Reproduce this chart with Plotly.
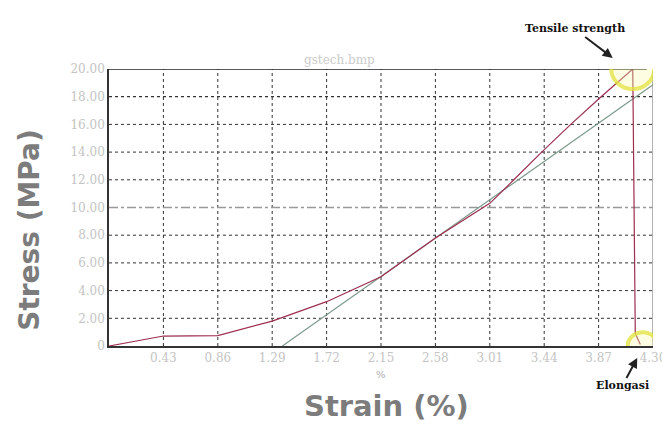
import plotly.graph_objects as go

# Data
strain = [0.0, 0.43, 0.86, 1.29, 1.72, 2.15, 2.58, 3.01, 3.20, 3.42, 3.65, 3.89, 4.14, 4.15, 4.16, 4.20]
stress = [0.0, 0.72, 0.75, 1.8, 3.2, 5.0, 7.8, 10.3, 12.0, 14.0, 16.0, 18.0, 20.0, 10.0, 0.9, 0.1]

fit_strain = [1.37, 4.43]
fit_stress = [0.0, 19.7]

x_ticks = [0.43, 0.86, 1.29, 1.72, 2.15, 2.58, 3.01, 3.44, 3.87, 4.30]
x_tick_text = ["0.43", "0.86", "1.29", "1.72", "2.15", "2.58", "3.01", "3.44", "3.87", "4.30"]
y_ticks = [0, 2, 4, 6, 8, 10, 12, 14, 16, 18, 20]
y_tick_text = ["0", "2.00", "4.00", "6.00", "8.00", "10.00", "12.00", "14.00", "16.00", "18.00", "20.00"]

peak = (4.14, 20.0)
break_pt = (4.22, 0.0)

fig = go.Figure()

fig.add_trace(go.Scatter(x=fit_strain, y=fit_stress, mode="lines",
                         line=dict(color="#7e9a8c", width=1.2), cliponaxis=False,
                         hoverinfo="skip"))
fig.add_trace(go.Scatter(x=strain, y=stress, mode="lines",
                         line=dict(color="#9c2f4f", width=1.2), hoverinfo="skip"))

# dotted grid via shapes
shapes = []
for xv in x_ticks[:-1]:
    shapes.append(dict(type="line", xref="x", yref="y", x0=xv, x1=xv, y0=0, y1=20,
                       line=dict(color="#333333", width=1, dash="dot"), layer="below"))
for yv in y_ticks[1:-1]:
    if yv == 10:
        shapes.append(dict(type="line", xref="x", yref="y", x0=0, x1=4.30, y0=yv, y1=yv,
                           line=dict(color="#999999", width=1.3, dash="dashdot"), layer="below"))
    else:
        shapes.append(dict(type="line", xref="x", yref="y", x0=0, x1=4.30, y0=yv, y1=yv,
                           line=dict(color="#333333", width=1.2 if yv == 18 else 1, dash="dot"),
                           layer="below"))
# frame
shapes.append(dict(type="line", xref="x", yref="y", x0=0, x1=4.25, y0=20, y1=20,
                   line=dict(color="#222222", width=1.3)))
shapes.append(dict(type="line", xref="x", yref="y", x0=4.30, x1=4.30, y0=0, y1=19.8,
                   line=dict(color="#999999", width=1.5)))
# yellow highlight circles
shapes.append(dict(type="circle", xref="x", yref="y", x0=peak[0] - 0.17, x1=peak[0] + 0.17,
                   y0=peak[1] - 1.45, y1=peak[1] + 1.45,
                   line=dict(color="rgba(225,225,60,0.75)", width=4),
                   fillcolor="rgba(250,250,170,0.35)"))
shapes.append(dict(type="circle", xref="x", yref="y", x0=break_pt[0] - 0.12, x1=break_pt[0] + 0.12,
                   y0=break_pt[1] - 1.0, y1=break_pt[1] + 1.0,
                   line=dict(color="rgba(225,225,60,0.75)", width=4),
                   fillcolor="rgba(250,250,170,0.35)"))

annotations = [
    dict(text="gstech.bmp", xref="paper", yref="paper", x=0.424, y=1.0, yanchor="bottom",
         showarrow=False, font=dict(family="DejaVu Serif", size=12, color="#cccccc")),
    dict(text="%", xref="paper", yref="paper", x=0.50, y=-0.103, yanchor="middle",
         showarrow=False, font=dict(family="DejaVu Serif", size=10, color="#aaaaaa")),
    dict(text="Strain (%)", xref="paper", yref="paper", x=0.511, y=-0.215, yanchor="middle",
         showarrow=False, font=dict(family="DejaVu Sans", size=29, color="#7c7c7c", weight="bold")),
    dict(text="Stress (MPa)", xref="paper", yref="paper", x=-0.145, y=0.42, textangle=-90,
         xanchor="center", yanchor="middle", showarrow=False,
         font=dict(family="DejaVu Sans", size=28, color="#7c7c7c", weight="bold")),
    dict(text="<b>Tensile strength</b>", xref="paper", yref="paper", x=0.926, y=1.04,
         ax=-38, ay=-29, arrowhead=2, arrowsize=1, arrowwidth=2, arrowcolor="#222222",
         standoff=0, font=dict(family="DejaVu Serif", size=11, color="#111111")),
    dict(text="<b>Elongasi</b>", xref="paper", yref="paper", x=0.971, y=-0.043,
         ax=-15, ay=28, arrowhead=2, arrowsize=1, arrowwidth=2, arrowcolor="#222222",
         standoff=0, font=dict(family="DejaVu Serif", size=11, color="#111111")),
]

fig.update_layout(
    width=670, height=425,
    margin=dict(l=101, r=17, t=61, b=87),
    paper_bgcolor="white", plot_bgcolor="white",
    showlegend=False,
    shapes=shapes,
    annotations=annotations,
    xaxis=dict(range=[0, 4.30], tickvals=x_ticks, ticktext=x_tick_text, showgrid=False,
               zeroline=False, showline=True, linecolor="#333333", linewidth=1.5,
               ticks="", tickfont=dict(family="DejaVu Serif", size=12, color="#c4c4c4")),
    yaxis=dict(range=[0, 20], tickvals=y_ticks, ticktext=y_tick_text, showgrid=False,
               zeroline=False, showline=True, linecolor="#333333", linewidth=1.5,
               ticks="", tickfont=dict(family="DejaVu Serif", size=12, color="#c4c4c4")),
)

fig.write_html("out.html")
